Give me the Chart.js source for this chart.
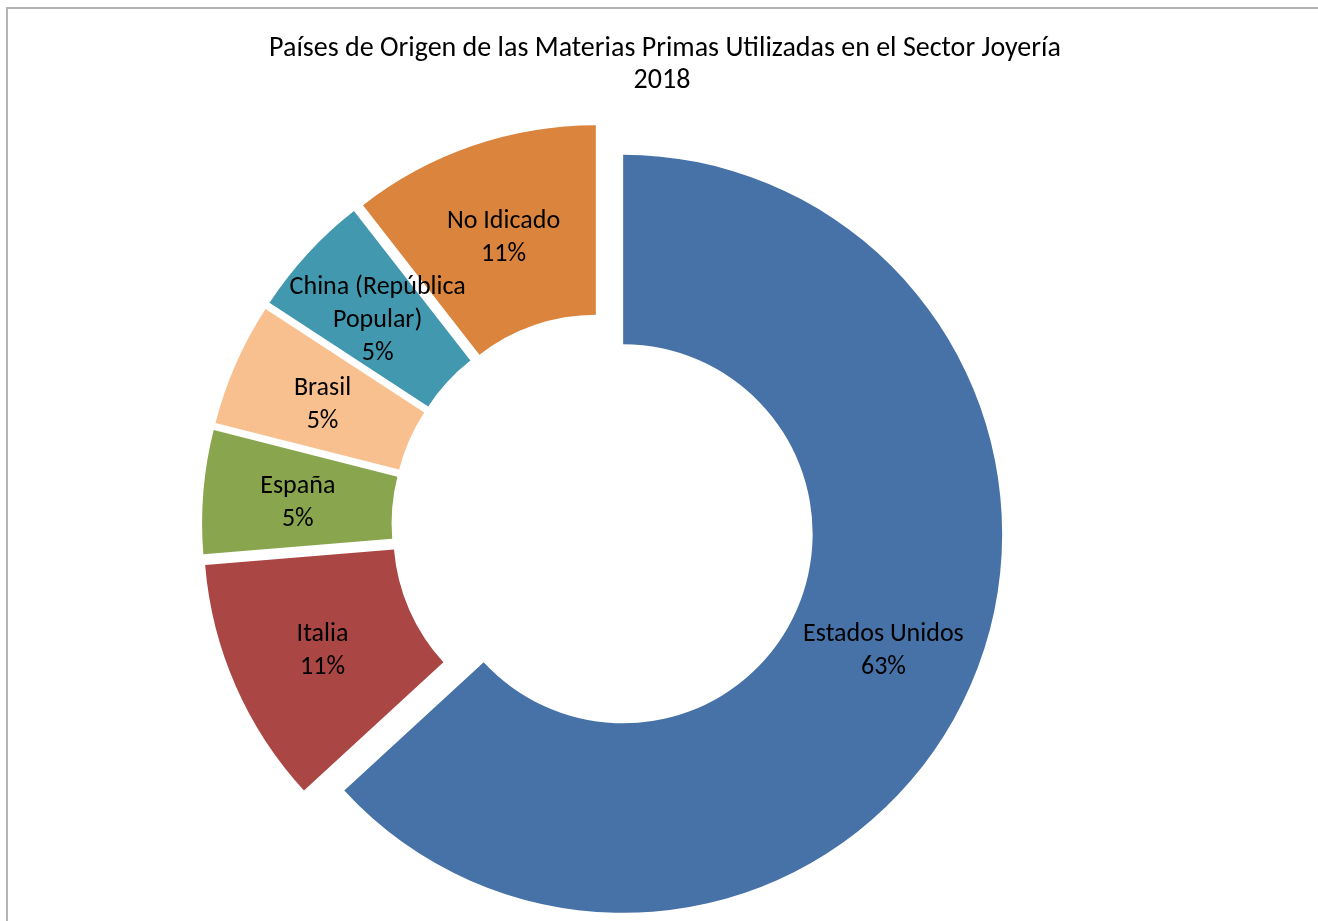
<!DOCTYPE html>
<html>
<head>
<meta charset="utf-8">
<title>Países de Origen de las Materias Primas - Sector Joyería 2018</title>
<script src="https://cdn.jsdelivr.net/npm/chart.js@4.4.1/dist/chart.umd.min.js"></script>
<style>
    html, body { margin: 0; padding: 0; background: #fff; }
    #wrap { position: relative; width: 1318px; height: 921px; }
    #frame {
        position: absolute; left: 6px; top: 7px; right: 0; bottom: 0;
        border-top: 2px solid #b4b4b4; border-left: 2px solid #b4b4b4;
        pointer-events: none;
    }
</style>
</head>
<body>
<div id="wrap">
    <canvas id="chart"></canvas>
    <div id="frame"></div>
</div>
<script>
// chart data
const titleLines = ['Países de Origen de las Materias Primas Utilizadas en el Sector Joyería', '2018'];
const countries = ['Estados Unidos', 'Italia', 'España', 'Brasil', 'China (República Popular)', 'No Idicado'];
const shares = [63.16, 10.53, 5.26, 5.26, 5.26, 10.53];
const sliceColors = ['#4672A8', '#AA4643', '#89A54E', '#F9C08F', '#4198AF', '#DB843D'];

const fontFamily = 'Carlito, Lato, "Liberation Sans", sans-serif';
const labelFont = '26px ' + fontFamily;
const titleFont = '28px ' + fontFamily;
const explode = 22;     // how far every slice is pulled out
const lineGap = 33;

// split a label into lines that fit maxWidth
function wrapText(ctx, text, maxWidth) {
    const words = text.split(' ');
    const lines = [];
    let line = '';
    words.forEach(w => {
        const test = line ? line + ' ' + w : w;
        if (line && ctx.measureText(test).width > maxWidth) {
            lines.push(line);
            line = w;
        } else {
            line = test;
        }
    });
    if (line) lines.push(line);
    return lines;
}

// draw each arc shifted out along its middle angle (exploded doughnut)
const explodePlugin = {
    id: 'explode',
    beforeDatasetDraw(chart, args) {
        const ctx = chart.ctx;
        args.meta.data.forEach(arc => {
            const mid = (arc.startAngle + arc.endAngle) / 2;
            ctx.save();
            ctx.translate(Math.cos(mid) * explode, Math.sin(mid) * explode);
            arc.draw(ctx, chart.chartArea);
            ctx.restore();
        });
        return false;
    }
};

// name + percent in the middle of every slice
const labelPlugin = {
    id: 'sliceLabels',
    afterDatasetsDraw(chart) {
        const ctx = chart.ctx;
        const meta = chart.getDatasetMeta(0);
        const total = shares.reduce((a, b) => a + b, 0);
        ctx.save();
        ctx.font = labelFont;
        ctx.fillStyle = '#000';
        ctx.textAlign = 'center';
        ctx.textBaseline = 'middle';
        meta.data.forEach((arc, i) => {
            const mid = (arc.startAngle + arc.endAngle) / 2;
            const r = explode + (arc.innerRadius + arc.outerRadius) / 2;
            const x = arc.x + Math.cos(mid) * r;
            const y = arc.y + Math.sin(mid) * r + 3;
            const lines = wrapText(ctx, countries[i], 210);
            lines.push(Math.round(shares[i] / total * 100) + '%');
            const top = y - (lines.length - 1) * lineGap / 2;
            lines.forEach((t, k) => ctx.fillText(t, x, top + k * lineGap));
        });
        ctx.restore();
    }
};

// two line title, centred over the picture rather than the chart area
const titlePlugin = {
    id: 'twoLineTitle',
    afterDraw(chart) {
        const ctx = chart.ctx;
        ctx.save();
        ctx.font = titleFont;
        ctx.fillStyle = '#000';
        ctx.textAlign = 'center';
        ctx.textBaseline = 'middle';
        ctx.fillText(titleLines[0], 665, 49);
        ctx.fillText(titleLines[1], 662, 81);
        ctx.restore();
    }
};

new Chart(document.getElementById('chart'), {
    type: 'doughnut',
    data: {
        labels: countries,
        datasets: [{
            data: shares,
            backgroundColor: sliceColors,
            borderWidth: 0
        }]
    },
    options: {
        responsive: true,
        maintainAspectRatio: false,
        animation: false,
        cutout: '50%',
        layout: {
            padding: { top: 146, bottom: 17, left: 0, right: 112 }
        },
        plugins: {
            legend: { display: false },
            title: { display: false },
            tooltip: { enabled: false }
        }
    },
    plugins: [explodePlugin, labelPlugin, titlePlugin]
});
</script>
</body>
</html>
